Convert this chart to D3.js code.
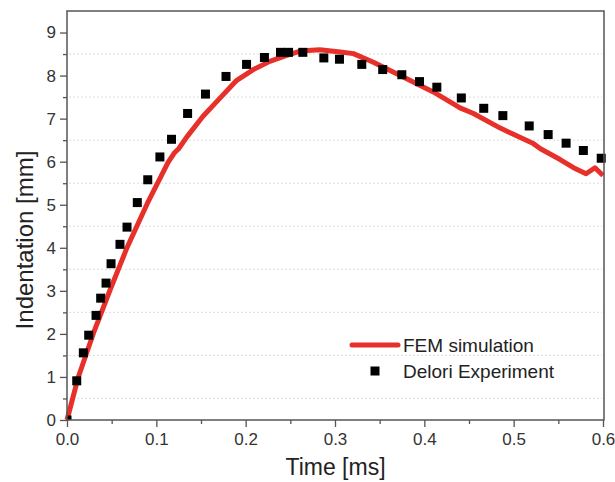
<!DOCTYPE html>
<html>
<head>
<meta charset="utf-8">
<script src="https://cdn.jsdelivr.net/npm/d3@7"></script>
<style>
  body { margin: 0; background: #fff; }
  svg { display: block; font-family: "Liberation Sans", Arial, sans-serif; }
</style>
</head>
<body>
<script>
// FEM simulation curve
const femTime = [0, 0.0127, 0.0295, 0.0482, 0.0675, 0.0899, 0.113, 0.12, 0.125, 0.134, 0.152, 0.171, 0.19, 0.2086,
  0.227, 0.246, 0.261, 0.283, 0.306, 0.3206, 0.343, 0.373, 0.41, 0.44, 0.455, 0.485, 0.522, 0.53, 0.552, 0.567,
  0.581, 0.591, 0.6];
const femIndent = [0, 1.0, 2.01, 3.02, 4.02, 5.03, 5.98, 6.2, 6.3, 6.57, 7.05, 7.47, 7.89, 8.14,
  8.33, 8.47, 8.57, 8.6, 8.55, 8.51, 8.31, 8.0, 7.62, 7.25, 7.12, 6.78, 6.42, 6.3, 6.05, 5.86,
  5.72, 5.86, 5.68];

// Delori experiment points
const expTime = [0, 0.0109, 0.0183, 0.0243, 0.0325, 0.0377, 0.0437, 0.0493, 0.0593, 0.0672, 0.0787, 0.0904,
  0.104, 0.117, 0.135, 0.155, 0.178, 0.201, 0.221, 0.239, 0.248, 0.264, 0.2875, 0.305, 0.33, 0.3534, 0.3748,
  0.3946, 0.414, 0.4414, 0.4665, 0.4879, 0.5174, 0.5386, 0.5587, 0.578, 0.598];
const expIndent = [0, 0.91, 1.56, 1.97, 2.43, 2.83, 3.18, 3.63, 4.08, 4.48, 5.05, 5.58,
  6.11, 6.52, 7.12, 7.57, 7.98, 8.26, 8.42, 8.54, 8.54, 8.54, 8.41, 8.38, 8.26, 8.14, 8.02,
  7.86, 7.73, 7.48, 7.24, 7.07, 6.83, 6.63, 6.43, 6.26, 6.08];

const xTicks = [0, 0.1, 0.2, 0.3, 0.4, 0.5, 0.6];
const yTicks = [0, 1, 2, 3, 4, 5, 6, 7, 8, 9];
const legendLabels = ['FEM simulation', 'Delori Experiment'];

const width = 615, height = 482;
const plotLeft = 67, plotRight = 604, plotTop = 11, plotBottom = 420;

const x = d3.scaleLinear().domain([0, 0.6]).range([plotLeft, 603]);
const y = d3.scaleLinear().domain([0, 9.5]).range([plotBottom, plotTop]);

const svg = d3.select('body').append('svg')
    .attr('width', width)
    .attr('height', height);

svg.append('clipPath')
    .attr('id', 'plot-clip')
    .append('rect')
        .attr('x', plotLeft)
        .attr('y', plotTop)
        .attr('width', plotRight - plotLeft + 2)
        .attr('height', plotBottom - plotTop);

// faint dotted grid at the half values
const halfs = d3.range(0.5, 9.5, 1);
svg.append('g').selectAll('line')
    .data(halfs)
    .enter()
    .append('line')
        .attr('x1', plotLeft + 2)
        .attr('x2', plotRight - 2)
        .attr('y1', (d) => y(d))
        .attr('y2', (d) => y(d))
        .attr('stroke', '#dcdcdc')
        .attr('stroke-width', 1)
        .attr('stroke-dasharray', '2,2');

// minor ticks
svg.append('g')
    .attr('transform', `translate(0,${plotBottom})`)
    .call(d3.axisBottom(x).tickValues(d3.range(0.05, 0.6, 0.1)).tickSize(4).tickFormat(''))
    .call((g) => g.select('.domain').remove())
    .selectAll('line').attr('stroke', '#555').attr('stroke-width', 1.3);
svg.append('g')
    .attr('transform', `translate(${plotLeft},0)`)
    .call(d3.axisLeft(y).tickValues(halfs).tickSize(4).tickFormat(''))
    .call((g) => g.select('.domain').remove())
    .selectAll('line').attr('stroke', '#555').attr('stroke-width', 1.3);

// major axes
const xAxis = svg.append('g')
    .attr('transform', `translate(0,${plotBottom})`)
    .call(d3.axisBottom(x).tickValues(xTicks).tickSize(7).tickPadding(6).tickFormat(d3.format('.1f')));
const yAxis = svg.append('g')
    .attr('transform', `translate(${plotLeft},0)`)
    .call(d3.axisLeft(y).tickValues(yTicks).tickSize(7).tickPadding(4).tickFormat(d3.format('d')));

[xAxis, yAxis].forEach((g) => {
    g.select('.domain').remove();
    g.selectAll('line').attr('stroke', '#555').attr('stroke-width', 1.3);
    g.selectAll('text')
        .attr('fill', '#333')
        .style('font-size', '17px')
        .style('font-family', '"Liberation Sans", Arial, sans-serif');
});

// FEM line
const line = d3.line()
    .x((d) => x(d[0]))
    .y((d) => y(d[1]));

svg.append('path')
    .datum(femTime.map((t, i) => [t, femIndent[i]]))
    .attr('d', line)
    .attr('fill', 'none')
    .attr('stroke', '#e8302a')
    .attr('stroke-width', 5)
    .attr('stroke-linejoin', 'round');

// experiment squares
const sq = 9;
svg.append('g')
    .attr('clip-path', 'url(#plot-clip)')
    .selectAll('rect')
    .data(expTime.map((t, i) => [t, expIndent[i]]))
    .enter()
    .append('rect')
        .attr('x', (d) => x(d[0]) - sq / 2)
        .attr('y', (d) => y(d[1]) - sq / 2)
        .attr('width', sq)
        .attr('height', sq)
        .attr('fill', '#000');

// frame
svg.append('rect')
    .attr('x', plotLeft)
    .attr('y', plotTop)
    .attr('width', plotRight - plotLeft)
    .attr('height', plotBottom - plotTop)
    .attr('fill', 'none')
    .attr('stroke', '#555')
    .attr('stroke-width', 1.5);

// axis titles
svg.append('text')
    .attr('x', (plotLeft + plotRight) / 2)
    .attr('y', 475)
    .attr('text-anchor', 'middle')
    .attr('fill', '#222')
    .style('font-size', '23px')
    .text('Time [ms]');

svg.append('text')
    .attr('transform', 'translate(33,240) rotate(-90)')
    .attr('text-anchor', 'middle')
    .attr('fill', '#222')
    .style('font-size', '24px')
    .text('Indentation [mm]');

// legend
const legend = svg.append('g');
legend.append('line')
    .attr('x1', 352).attr('x2', 398)
    .attr('y1', 345).attr('y2', 345)
    .attr('stroke', '#e8302a')
    .attr('stroke-width', 5)
    .attr('stroke-linecap', 'round');
legend.append('rect')
    .attr('x', 375 - sq / 2)
    .attr('y', 371 - sq / 2)
    .attr('width', sq)
    .attr('height', sq)
    .attr('fill', '#000');
legend.selectAll('text')
    .data(legendLabels)
    .enter()
    .append('text')
        .attr('x', 403)
        .attr('y', (d, i) => 352 + i * 26)
        .attr('fill', '#222')
        .style('font-size', '19px')
        .text((d) => d);
</script>
</body>
</html>
